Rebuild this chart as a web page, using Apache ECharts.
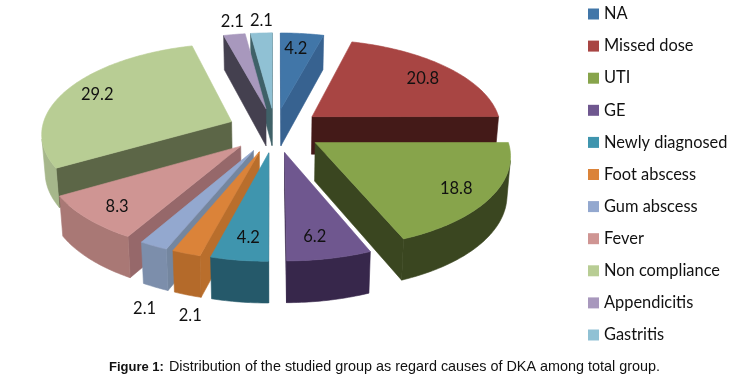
<!DOCTYPE html>
<html>
<head>
<meta charset="utf-8">
<style>html,body{margin:0;padding:0;background:#fff}#c{width:740px;height:381px}</style>
<script src="https://cdn.jsdelivr.net/npm/echarts@6/dist/echarts.min.js"></script>
</head>
<body>
<div id="c"></div>
<script>
const categories = ['NA','Missed dose','UTI','GE','Newly diagnosed','Foot abscess','Gum abscess','Fever','Non compliance','Appendicitis','Gastritis'];
const values = [4.2,20.8,18.8,6.2,4.2,2.1,2.1,8.3,29.2,2.1,2.1];
const topColors = ['#4176a8','#a84543','#87a44b','#6f578f','#3f95ae','#db8339','#93a8cf','#cf9593','#b8cd94','#a898bd','#90c1d4'];
const radialColors = ['#376290','#441a18','#3a4620','#37274b','#25596a','#b96e2c','#74869f','#96686a','#5c6647','#44404f','#3f6168'];
const rimColors = ['#376290','#441a18','#3a4620','#37274b','#25596a','#b46a2a','#7c8eab','#a97875','#a6b78b','#44404f','#3f6168'];
const labelRadius = [0.82,0.73,0.87,0.8,0.75,1,1,0.85,0.83,1,1];
const labelNudge = [[-3,3],[10,-2],[-10,-1],[-5,2],[1,7],[4,62],[-9,63],[5,0],[3,0],[-2,-13],[0,-12]];

const cx = 275, cy = 130, rx = 190, ty = 89.4, k = 0.12, H = 38, explode = 0.25;
const total = values.reduce((a,b)=>a+b,0);
const rad = d => d*Math.PI/180;

function project(X,Y,low){
  const s = 1/(1+k*Y);
  let x = cx+X*rx*s, y = cy-Y*ty*s;
  if(low){ y += H*(1-0.08*Y); x = cx+(x-cx)*0.985; }
  return [x,y];
}
function area(p){
  let a=0;
  for(let i=0;i<p.length;i++){const q=p[(i+1)%p.length];a+=p[i][0]*q[1]-q[0]*p[i][1];}
  return a;
}
let acc=0;
const spans = values.map(v=>{const a=acc/total*360;acc+=v;return [a,acc/total*360];});

function renderSlice(i){
  return function(params,api){
    const v = api.value(0);
    const a0 = spans[i][0], a1 = a0+v/total*360, m = (a0+a1)/2;
    const ox = explode*Math.sin(rad(m)), oy = explode*Math.cos(rad(m));
    const pt = (deg,r,low)=>project(ox+r*Math.sin(rad(deg)),oy+r*Math.cos(rad(deg)),low);
    const children=[];
    const poly=(pts,color,z2)=>children.push({type:'polygon',z2:z2,shape:{points:pts},style:{fill:color,stroke:color,lineWidth:0.6}});
    const w1=[pt(a0,0,0),pt(a0,1,0),pt(a0,1,1),pt(a0,0,1)];
    const w2=[pt(a1,1,0),pt(a1,0,0),pt(a1,0,1),pt(a1,1,1)];
    if(area(w1)<0) poly(w1,radialColors[i],1);
    if(area(w2)<0) poly(w2,radialColors[i],1);
    const n=Math.max(2,Math.ceil(a1-a0));
    const arc=[pt(a0,0,0)];
    let run=[];
    const flush=()=>{
      if(run.length>1){
        const up=run.map(d=>pt(d,1,0)), low=run.map(d=>pt(d,1,1)).reverse();
        poly(up.concat(low),rimColors[i],2);
      }
      run=[];
    };
    for(let j=0;j<=n;j++){
      const d=a0+(a1-a0)*j/n;
      arc.push(pt(d,1,0));
      if(j<n){
        const e=a0+(a1-a0)*(j+1)/n;
        const q=[pt(d,1,0),pt(e,1,0),pt(e,1,1),pt(d,1,1)];
        if(area(q)<0){ if(!run.length) run.push(d); run.push(e); }
        else flush();
      }
    }
    flush();
    poly(arc,topColors[i],3);
    const r=labelRadius[i], l=pt(m,r,0), nd=labelNudge[i];
    children.push({type:'text',z2:4,style:{x:l[0]+nd[0],y:l[1]+nd[1],text:String(v),fill:'#111',font:'16.5px Lato',textAlign:'center',textVerticalAlign:'middle'}});
    return {type:'group',children:children};
  };
}
const rank = categories.map((c,i)=>i).sort((a,b)=>{
  const f=i=>Math.cos(rad((spans[i][0]+spans[i][1])/2));
  return f(b)-f(a);
});
const series = categories.map((name,i)=>({
  type:'custom',name:name,coordinateSystem:'none',silent:true,animation:false,
  z:2+rank.indexOf(i)/10,
  itemStyle:{color:topColors[i]},
  data:[[values[i]]],
  renderItem:renderSlice(i)
}));
const chart = echarts.init(document.getElementById('c'),null,{renderer:'canvas'});
chart.setOption({
  backgroundColor:'#fff',animation:false,
  title:{left:109,top:358,padding:0,text:'{b|Figure 1:} {r|Distribution of the studied group as regard causes of DKA among total group.}',
    textStyle:{fontWeight:'normal',rich:{b:{fontFamily:'Liberation Sans',fontSize:13,fontWeight:'bold',color:'#111'},r:{fontFamily:'Liberation Sans',fontSize:14.4,fontWeight:'normal',color:'#111'}}}},
  legend:{orient:'vertical',left:588,top:6,padding:0,itemWidth:11,itemHeight:11,itemGap:16.1,icon:'rect',
    data:categories,textStyle:{fontFamily:'Lato',fontSize:16.4,lineHeight:11,color:'#111'},selectedMode:false},
  series:series
});
</script>
</body>
</html>
